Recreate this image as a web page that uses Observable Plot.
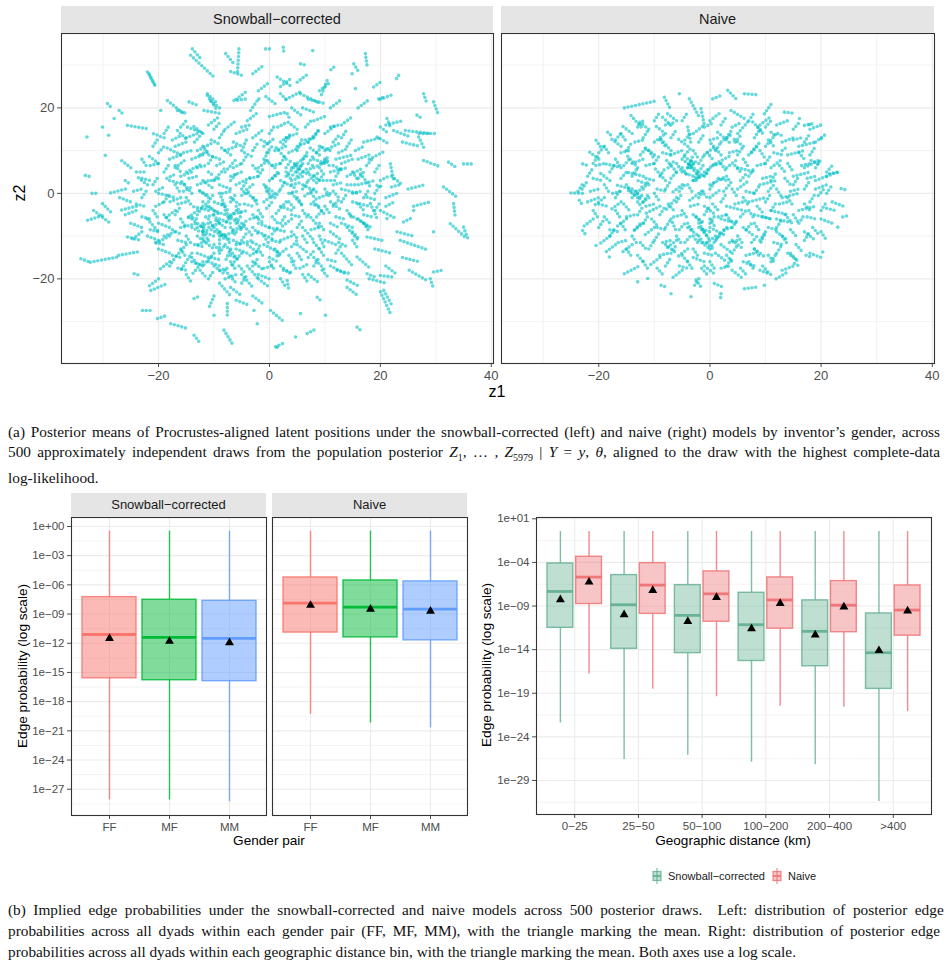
<!DOCTYPE html>
<html><head><meta charset="utf-8">
<script src="https://cdn.jsdelivr.net/npm/d3@7"></script>
<script src="https://cdn.jsdelivr.net/npm/@observablehq/plot@0.6"></script>
<style>
body{margin:0;background:#fff;}
#fig{position:relative;width:948px;height:975px;font-family:"Liberation Sans",Arial,sans-serif;overflow:hidden;}
.strip{position:absolute;background:#E5E5E5;color:#1A1A1A;text-align:center;}
.lbl{position:absolute;color:#000;white-space:nowrap;transform:translate(-50%,-50%);}
.cap{position:absolute;left:8px;width:960px;font-family:"Liberation Serif","Times New Roman",serif;font-size:15.3px;color:#111;}
.cap div{white-space:nowrap;}
.cap div span{display:inline-block;white-space:nowrap;}
.leg{position:absolute;top:868px;font-size:11px;color:#1A1A1A;display:flex;align-items:center;}
</style></head>
<body><div id="fig"></div>
<script>
// ---------------- DATA ----------------
// Latent-position streaks (z1 start, z2 start, z1 end, z2 end)
const snowballStreaks = [
// hub around (-9,-6)
[-12,-2,-9,-5],[-10,-8,-7,-11],[-6,-4,-8,-7],[-14,-6,-11,-9],[-9,0,-8,-3],[-5,-7,-3,-10],[-13,-10,-10,-13],[-8,-12,-6,-15],
[-11,-4,-14,-3],[-7,-1,-5,-3],[-16,-8,-13,-7],[-10,-14,-12,-17],[-4,-12,-2,-14],[-6,-9,-9,-10],[-12,-7,-12,-11],[-3,-5,-1,-7],
[-15,-12,-17,-15],[-8,-8,-10,-6],[-5,-14,-7,-17],[-2,-9,1,-11],[-11,-1,-13,1],[-9,-10,-9,-13],[-14,-14,-16,-18],[-7,-5,-4,-4],
[-13,-4,-15,-6],[-17,-4,-19,-6],[-18,-10,-21,-12],[-6,-12,-3,-11],[-10,-17,-8,-19],[-1,-12,2,-14],[-3,-16,-1,-18],[0,-8,3,-9],
[-12,-16,-14,-19],[-16,-1,-18,-2],[-4,0,-2,-2],[-9,-7,-11,-8],[-7,-13,-8,-16],[-11,-11,-13,-12],[-6,-6,-5,-9],[-8,-3,-10,-2],
[-10,-5,-9,-7],[-8,-4,-7,-6],[-11,-6,-10,-8],[-7,-8,-6,-10],[-9,-9,-8,-11],[-12,-9,-11,-11],[-6,-7,-5,-5],
// hub around (6,5)
[4,6,7,9],[6,2,9,0],[8,6,11,8],[2,3,5,1],[5,10,6,13],[9,3,12,3],[3,8,1,11],[7,12,9,15],[10,10,13,12],[4,0,6,-3],
[1,6,-1,8],[8,-2,10,-5],[11,5,14,6],[6,7,4,4],[2,12,4,14],[12,8,15,9],[9,9,7,11],[3,-2,1,-5],[7,-5,9,-8],[13,1,16,0],
[0,3,2,5],[5,15,3,17],[10,14,12,16],[14,4,17,6],[8,1,6,-1],[11,-2,13,-4],[1,0,-1,2],[6,-8,8,-11],[9,-10,10,-13],[4,-6,2,-8],
[7,3,9,5],[5,4,7,6],[3,4,5,7],[8,8,10,7],[5,5,6,7],[7,5,8,7],[4,3,6,4],[6,8,7,10],[8,3,9,4],[3,6,4,8],
// core fill
[-19,14,-18,16],[-15,13,-13,14],[-9,13,-8,15],[-6,14,-4,15],[0,14,1,16],[3,13,5,14],[8,13,9,15],[13,13,14,15],
[-21,11,-20,13],[-17,11,-15,12],[-12,11,-11,9],[-8,10,-6,11],[-3,10,-2,12],[1,10,3,11],[5,11,7,12],[9,11,11,10],[14,11,15,13],
[-23,8,-22,6],[-18,8,-16,9],[-14,8,-12,9],[-11,7,-10,9],[-5,7,-4,9],[-1,8,0,10],[2,7,3,9],[7,7,8,9],[10,8,11,6],[13,7,15,8],[16,8,18,9],
[-24,5,-22,5],[-19,5,-18,7],[-16,4,-14,5],[-11,5,-10,4],[-7,4,-5,5],[-2,4,-1,6],[3,5,4,3],[6,5,8,4],[9,6,10,4],[12,4,13,6],[15,5,16,3],[19,5,20,7],
[-26,3,-25,2],[-21,2,-20,4],[-17,2,-16,0],[-13,2,-11,3],[-9,2,-7,1],[-5,1,-4,3],[-1,2,0,0],[2,1,3,3],[6,1,7,3],[10,1,11,-1],[14,2,16,2],[19,0,20,2],
[-27,-1,-25,-2],[-23,-1,-22,1],[-19,-2,-18,0],[-15,-1,-14,-3],[-11,-2,-10,0],[-7,-2,-6,0],[-3,-1,-2,-3],[1,-1,2,1],[5,-1,6,-3],[9,-1,11,0],[13,-2,14,0],[17,-1,18,1],[21,-1,23,0],
[-26,-5,-24,-4],[-21,-4,-20,-6],[-17,-5,-16,-3],[-13,-5,-12,-3],[-10,-4,-8,-5],[-6,-3,-5,-5],[-2,-4,-1,-6],[2,-3,4,-4],[6,-4,7,-6],[10,-3,11,-5],[14,-4,15,-6],[19,-4,20,-2],
[-25,-7,-23,-8],[-20,-7,-18,-8],[-16,-6,-15,-8],[-13,-8,-11,-7],[-9,-6,-7,-7],[-5,-8,-4,-6],[-2,-7,0,-8],[2,-7,3,-5],[5,-8,6,-6],[9,-7,10,-9],[13,-7,15,-8],[17,-7,18,-9],
[-22,-10,-20,-11],[-19,-10,-17,-9],[-15,-10,-14,-12],[-12,-9,-10,-10],[-8,-10,-7,-12],[-5,-11,-4,-9],[-1,-10,0,-12],[2,-11,4,-10],[6,-10,7,-12],[10,-11,12,-12],[15,-11,16,-13],
[-20,-13,-18,-14],[-16,-13,-15,-15],[-13,-14,-11,-15],[-9,-14,-8,-12],[-6,-13,-4,-14],[-2,-13,-1,-15],[1,-13,2,-15],[5,-14,6,-16],[9,-13,10,-15],[12,-14,13,-12],
[-18,-17,-17,-15],[-14,-16,-12,-17],[-11,-16,-9,-17],[-7,-16,-6,-18],[-3,-17,-2,-15],[0,-16,1,-18],[4,-16,5,-18],[8,-17,9,-15],
[-15,-19,-14,-21],[-11,-20,-10,-18],[-8,-20,-6,-19],[-5,-21,-4,-19],[-2,-19,0,-20],[2,-20,3,-22],[6,-19,7,-21],
// core fill, second pass
[-16,15.5,-15,17],[-10,15,-9,16.5],[-5,15.5,-3.5,16],[1.5,15.5,3,16.5],[6.5,15.5,7.5,17],[11,15.5,12.5,16],
[-17.5,12.5,-16,13.5],[-13.5,12,-12.5,13.5],[-10.5,12.5,-9,11.5],[-6.5,12,-5,11],[-1.5,12.5,0,11.5],[2.5,11.5,3.5,13],[6.5,12.5,8,13],[11.5,12,12.5,13.5],
[-20,9.5,-19,11],[-15.5,9.5,-14,10],[-12.5,9,-11,10],[-4.5,9.5,-3,8.5],[-0.5,9.5,0.5,11],[3.5,9.5,5,10.5],[8.5,9.5,9.5,11],[12.5,9.5,14,10.5],[15.5,10,17,11],
[-21.5,6.5,-20,7],[-17,6.5,-16,5],[-13,6,-11.5,6.5],[-9.5,6.5,-8,7.5],[-6.5,6,-5,7],[-3,6.5,-2,5],[0.5,6.5,2,7],[4.5,7,5.5,5.5],[9.5,7,10.5,8.5],[11.5,6.5,13,5.5],[17.5,6.5,18.5,8],
[-23,3.5,-21.5,3],[-18.5,3.5,-17,4.5],[-14.5,3.5,-13,4],[-10.5,3,-9,3.5],[-7,3,-6,4.5],[-3.5,3.5,-2,4],[0.5,3.5,1.5,5],[4,2,5.5,2.5],[8.5,2.5,9.5,4],[11.5,2,13,2.5],[16,3.5,17,5],[20,3,21.5,4],
[-24.5,0.5,-23,1],[-20.5,0.5,-19,1.5],[-15.5,0.5,-14,1.5],[-12.5,0.5,-11,-0.5],[-8.5,0,-7,0.5],[-5,-0.5,-3.5,0.5],[-0.5,0.5,0.5,-1],[3.5,0,5,0.5],[7.5,0,8.5,-1.5],[11.5,0.5,12.5,-1],[15,0,16.5,0.5],[22,1.5,23.5,2],
[-24,-2.5,-22.5,-3],[-20.5,-3,-19,-2],[-16.5,-2.5,-15,-2],[-12,-3,-10.5,-3.5],[-8.5,-2.5,-7.5,-4],[-4.5,-2.5,-3,-3],[-0.5,-3.5,0.5,-2],[3.5,-2,4.5,-3.5],[7.5,-2.5,9,-3],[11.5,-3,12.5,-1.5],[16,-2.5,17,-4],[21,-3,22.5,-2],
[-23,-5.5,-21.5,-6],[-19,-5,-18,-6.5],[-14.5,-5.5,-13,-6],[-11.5,-5.5,-10,-5],[-7.5,-5.5,-6,-6.5],[-3.5,-6,-2,-5.5],[0.5,-5.5,1.5,-7],[4,-5,5.5,-5.5],[8.5,-5.5,9.5,-4],[12,-5.5,13.5,-6],[17,-5,18.5,-5.5],
[-21.5,-8.5,-20,-9],[-17.5,-8.5,-16,-9.5],[-14,-8,-12.5,-9],[-10.5,-8.5,-9,-9.5],[-6.5,-8.5,-5,-8],[-3,-8,-2,-9.5],[0.5,-9.5,1.5,-8],[4,-9,5,-10.5],[7.5,-8.5,9,-8],[11,-7,12.5,-8],[15,-9,16,-10.5],
[-20.5,-11.5,-19,-12],[-16.5,-11,-15,-11.5],[-13.5,-12,-12,-12.5],[-10,-12,-9,-13.5],[-6.5,-11,-5,-12],[-3,-11.5,-1.5,-12.5],[0.5,-11,2,-11.5],[4,-12.5,5,-11],[8,-11.5,9,-13],[12.5,-11.5,14,-12.5],
[-17.5,-14.5,-16,-15],[-14,-15,-13,-16.5],[-10.5,-15,-9,-15.5],[-7,-14.5,-5.5,-15.5],[-3.5,-14.5,-2,-13.5],[0,-15,1.5,-16],[3.5,-14.5,4.5,-16],[7,-15,8,-13.5],[10.5,-15.5,12,-16],
[-16.5,-17.5,-15,-18],[-12.5,-18,-11.5,-19.5],[-9,-18,-7.5,-17.5],[-5.5,-17,-4.5,-18.5],[-1,-17.5,0.5,-17],[2.5,-18,4,-18.5],[5.5,-17.5,7,-16.5],[9.5,-18,10.5,-19.5],
// between hubs / left side
[-15,5,-12,7],[-18,3,-15,2],[-20,0,-17,-1],[-22,2,-24,4],[-13,10,-10,12],[-8,5,-6,8],[-5,10,-4,13],[-10,3,-8,6],[-16,9,-19,11],
[-6,2,-3,4],[-2,6,0,8],[-3,13,-1,15],[-12,14,-14,16],[-8,15,-6,17],[-20,7,-22,9],[-24,-3,-27,-4],[-22,-6,-20,-9],[-26,1,-29,0],
[-19,13,-21,14],[-11,16,-9,18],[-4,17,-2,19],[-1,11,1,13],[-7,9,-9,11],[-25,6,-27,8],[-14,0,-16,3],[-3,2,-5,0],[-1,-2,1,0],
[-23,-9,-25,-11],[-18,-16,-20,-18],[-20,-20,-22,-22],[-12,3,-10,1],[-17,6,-15,8],[-9,8,-11,9],
// cluster near (-5,-20)
[-8,-18,-6,-21],[-5,-19,-3,-22],[-7,-22,-5,-24],[-4,-17,-2,-20],[-9,-21,-7,-24],[-6,-25,-4,-26],[-3,-24,-1,-26],[-10,-24,-11,-27],[-2,-20,0,-22],
// upper middle
[2,25,4,27],[3,22,6,24],[5,26,7,28],[7,22,10,21],[4,20,6,18],[1,21,-1,23],[9,24,11,26],[6,20,8,19],[0,18,3,19],[11,20,13,22],
[-2,24,0,26],[8,17,10,18],[-6,22,-4,24],[-9,20,-11,22],[-3,28,-1,30],
// right side
[15,-2,18,-3],[16,2,19,3],[18,8,21,10],[20,-4,23,-6],[14,-8,16,-11],[19,-13,22,-14],[17,12,20,13],[22,4,24,2],[25,1,28,2],
[23,-9,26,-10],[21,16,24,17],[13,16,15,18],[24,12,27,11],[26,-3,29,-2],[18,-20,21,-21],[13,-14,15,-17],[11,-17,14,-19],
[16,20,18,22],[20,22,22,23],[27,14,30,14],[24,-15,27,-16],[14,-22,16,-24],[8,-15,10,-18],[5,-12,7,-14],[2,-17,4,-19],
[7,-19,9,-21],[3,-13,1,-15],[11,-9,13,-11],[16,-6,18,-8],[21,-17,23,-19],
// outer streaks
[-13.9,33.8,-12.4,31.5],[-14.2,32.3,-10.0,27.2],[-7.9,32.7,-6.4,30.3],[-5.5,33.8,-5.8,27.6],[-7,28.5,-5,27.6],[-0.7,33.8,0.2,33.8],
[2.5,34.2,2.6,32.7],[7.8,33.4,8,33.6],[17.3,32.7,17.6,29.9],[15.2,30.3,16.1,28.4],[23.3,27.6,22.7,26.4],[-22.0,28.4,-20.5,24.9],
[-18.4,21.7,-15.4,18.6],[-29.2,21.0,-28.6,20.2],[-27.1,19.4,-26.2,18.3],[-28,17.5,-27.8,17.3],[-32.9,13.2,-32.6,13.3],[-25.6,15.9,-22.0,15.1],
[-30.1,15.5,-30,15.6],[-29.0,13.6,-28.7,13.3],[-29.6,8.9,-29,8.5],[-33.2,4.2,-32,3.8],[-32,0,-30.8,0],[-34,-15.3,-32.6,-16],
[-32.3,-16.1,-27.4,-14.9],[-27.2,-14.5,-23.8,-13.7],[-31.7,-4.0,-28.6,-7.1],[-32.8,-6.3,-29.9,-5.1],[-30.1,-2.4,-28.3,-4.8],
[-25.6,-10.2,-23.2,-11],[-24.4,-18.8,-23.2,-19.2],[-21.4,-22.7,-18.4,-21.1],[-22.9,-27.4,-21.1,-27.4],[-20.2,-29.3,-18.4,-28.5],
[-17.8,-30.5,-14.8,-31.6],[-13.6,-33.2,-12.4,-35.2],[-13.6,-24.6,-12.4,-23.9],[-10,-28.5,-9.9,-28.6],[-8.2,-32,-6.7,-35.2],
[-7.6,-25.8,-7.6,-28.9],[-2.8,-27.4,-2.7,-27.5],[-2.2,-30.5,-2.1,-30.6],[0.2,-27.4,2.3,-29.7],[1.4,-36,1.5,-36.1],[1.1,-35.9,2.9,-34.8],
[5.6,-28.1,5.5,-28.3],[4.7,-33.6,4.8,-33.7],[6.8,-32.8,8.6,-31.6],[15.8,-31.3,16.4,-32],[3.2,-20.4,3.5,-22.7],[8.6,-24.3,9.5,-25.4],
[10.1,-28.5,10.2,-28.6],[20,-23,21.8,-28.1],[20.6,-22.7,22.1,-26.2],[29,-20,29.6,-22.3],[29.6,-18.4,31.1,-18],[25.2,-18,28.4,-20.4],
[20,-19.2,22.4,-19.6],[17.6,-18.8,19.1,-19.6],[14,-20.3,16.4,-21.9],[12.2,-18,14.6,-18.8],[15.8,-14.9,18.2,-17.6],[14.6,-5.1,18.2,-7.9],
[17.6,-10.2,20.3,-11],[23.6,-11,28.7,-13.3],[35,-7.9,35.9,-11],[32.6,-7.1,35.6,-10.6],[29.6,-9,29.7,-9.1],[33.2,-2.4,33.5,-5.5],
[31.4,1.5,33.8,-0.9],[35,6.9,36.8,6.9],[32.3,7.3,33.5,6.2],[27.8,7.7,30.8,6.2],[26.6,18.3,27.5,17.5],[27.8,23.3,28.4,21],
[29.6,21.4,30.5,18.2],[26.9,13.2,27.8,10.8],[24.5,14.7,29,14],[22.4,14.7,25.4,13.2],[19.4,13.2,21.5,11.6],[21.2,17.5,21.8,15.5],
[20,15.5,21.2,14.3],[21.8,6.9,22.4,3],[16.4,4.6,18.2,1.5],[19.4,1.9,20.6,1.5],[17.6,-0.9,19.4,-1.6],[18.2,-2.4,19.4,-5.9],
[21.2,-5.9,21.3,-6],[25.4,-5.9,23.6,-7.1],[26,-4,26.1,-4.1],[18.8,24.9,20,26],[15.5,24.5,15.6,24.6],[14.9,28,15,28.1],
[19.7,22.1,20.6,22.5],[11.6,29.5,11,28.8],[10.4,26.4,9.2,22.5],[5.6,30.3,6.8,29.9],[1.4,27.2,4.1,24.9],[2,23.3,3.2,21.7],
[5.6,23.3,9.2,21],[3.2,18.6,3.8,17.1],[-3.4,19.4,-2.2,21.7],[-6.4,21.7,-4,22.1],[-1.9,22.1,-1.8,22.2],[-11.2,23.3,-9.4,21],
[-11.8,19.4,-8.5,18.6],[-11.2,22.9,-9.4,19.4],[-16.6,19.4,-14.8,18.6],[-14.5,21.4,-13,20.6],[-19.6,19.4,-19.5,19.5],
[-14.8,15.5,-11.8,14],[-16.6,14.7,-14.8,12.4],[-21.7,28,-20.5,24.9]
];
const naiveStreaks = [
// interior
[-5,8,-2,5],[-3,3,0,5],[-6,5,-8,8],[-1,9,1,11],[-4,11,-6,13],[0,2,3,4],[-8,3,-10,6],[-2,0,-4,-2],[1,7,4,9],[-7,10,-9,13],
[2,12,4,14],[-10,9,-12,11],[-3,14,-1,16],[5,6,8,5],[-12,4,-15,5],[-14,1,-17,2],[-11,-1,-13,-3],[-16,-2,-18,-4],[-13,6,-15,9],
[-18,3,-20,5],[-9,-3,-12,-5],[-6,-1,-8,-4],[-15,-6,-17,-8],[-19,-1,-21,-3],[-10,-8,-12,-10],[-7,-6,-6,-9],[-3,-5,-1,-7],
[0,-8,3,-10],[-2,-11,0,-13],[2,-6,5,-7],[4,-11,6,-13],[-4,-13,-6,-15],[1,-14,3,-16],[-1,-17,1,-19],[6,-8,8,-10],[3,-3,6,-4],
[7,-2,10,-1],[9,2,12,3],[11,-4,14,-5],[8,-13,10,-15],[12,-9,14,-11],[13,-1,16,0],[15,4,18,5],[11,6,13,8],[7,9,9,12],
[10,11,12,14],[14,9,17,10],[16,-4,19,-3],[17,-9,19,-11],[14,-14,16,-16],[19,1,21,2],[20,-6,22,-7],[17,6,20,8],[19,12,21,14],
[5,14,7,17],[9,16,11,18],[0,17,2,19],[-6,17,-8,19],[-11,15,-13,17],[-16,11,-18,13],[-20,8,-22,10],[-21,-6,-23,-8],
[-18,-10,-20,-12],[-14,-12,-16,-14],[-9,-15,-11,-17],[-5,-18,-7,-20],[4,-18,6,-20],[9,-18,11,-19],[13,-18,15,-17],
[18,-14,20,-15],[22,-2,24,-3],[21,4,23,5],[18,15,20,16],[-2,-20,-3,-22],[-8,-12,-6,-14],[5,1,7,3],[-4,-8,-2,-10],
[-12,-7,-14,-9],[-1,-3,1,-5],[3,-8,1,-11],[-5,2,-7,0],[-2,4,-4,7],[2,9,0,12],[6,11,4,13],[-8,14,-10,16],[12,-6,15,-7],
[10,-9,9,-12],[-16,6,-19,7],[-23,2,-24,0],[-17,-12,-19,-14],[16,11,19,12],[20,-9,21,-11],[-6,-11,-8,-13],[0,-1,2,1],
[3,6,5,8],[-10,12,-8,14],[-14,14,-16,16],[8,-5,11,-6],[6,-16,8,-17],[-3,-15,-1,-16],
[-4,6,-3,9],[-1,5,1,7],[-2,-8,0,-9],[1,-10,-1,-12],[-13,-1,-15,1],[-11,2,-13,3],[-3,7,-5,9],[2,-12,4,-14],
// core fill
[-10,17,-9,19],[-5,17,-4,19],[2,16,3,18],[7,17,8,19],[12,16,14,17],
[-16,14,-15,12],[-12,13,-11,15],[-7,13,-6,15],[-2,12,-1,14],[3,13,4,15],[8,13,9,15],[13,12,15,13],[17,12,18,14],
[-19,11,-18,9],[-15,10,-14,12],[-11,10,-10,8],[-7,9,-5,10],[-3,10,-2,8],[1,10,2,12],[5,9,6,11],[9,10,10,8],[13,10,14,11],[18,9,19,11],
[-21,7,-20,9],[-17,8,-16,6],[-14,7,-12,8],[-10,7,-9,9],[-6,7,-5,5],[-2,7,-1,9],[2,7,3,5],[6,8,7,6],[10,7,11,9],[14,7,15,5],[19,6,20,8],
[-22,4,-21,6],[-18,5,-17,7],[-14,4,-13,6],[-9,4,-8,6],[-5,5,-3,4],[-1,4,0,6],[3,4,4,2],[7,4,8,6],[11,3,12,5],[15,2,16,4],[19,3,21,4],
[-23,1,-22,3],[-19,2,-18,0],[-15,2,-14,0],[-12,1,-11,3],[-8,1,-7,3],[-4,2,-3,0],[0,1,1,3],[4,1,5,-1],[8,0,9,2],[12,1,13,-1],[17,1,18,3],[21,0,22,2],
[-22,-2,-20,-1],[-17,-1,-16,1],[-13,-2,-12,0],[-10,0,-9,-2],[-6,-2,-5,0],[-2,-1,-1,1],[2,-2,3,0],[6,-1,7,-3],[10,-2,11,0],[14,-1,15,-3],[18,-2,19,0],
[-21,-4,-20,-6],[-17,-4,-16,-6],[-13,-5,-12,-3],[-9,-5,-8,-3],[-5,-4,-4,-6],[-1,-5,0,-3],[3,-5,4,-7],[7,-4,8,-6],[11,-4,12,-2],[15,-5,16,-7],[20,-4,21,-2],
[-20,-8,-19,-6],[-16,-7,-15,-9],[-12,-7,-11,-5],[-8,-8,-7,-6],[-4,-7,-3,-9],[0,-7,1,-5],[4,-8,5,-6],[8,-7,9,-9],[12,-8,13,-6],[16,-7,17,-5],
[-18,-10,-17,-8],[-14,-10,-13,-12],[-10,-11,-9,-9],[-6,-10,-5,-12],[-2,-10,-1,-12],[1,-11,2,-9],[5,-10,6,-12],[9,-11,10,-9],[13,-10,14,-12],[17,-11,18,-9],
[-15,-13,-14,-15],[-11,-13,-10,-11],[-7,-14,-6,-12],[-3,-13,-2,-15],[0,-13,1,-11],[4,-14,5,-12],[8,-13,9,-15],[12,-14,13,-12],
[-12,-16,-11,-18],[-8,-17,-7,-15],[-4,-16,-3,-18],[0,-16,1,-18],[3,-17,4,-15],[7,-16,8,-18],[11,-16,12,-14],
[-4,6,-3,8],[-2,5,-1,7],[-3,3,-2,5],[-5,6,-4,4],[-1,-9,0,-11],[-2,-7,-1,-9],[0,-6,1,-8],[-3,-10,-2,-12],[-13,0,-12,2],[-14,-1,-13,1],[-12,-2,-11,0],
// core fill, second pass
[-13,15.5,-12,17],[-8,16,-6.5,16.5],[-1,15.5,0.5,16.5],[4,15.5,5.5,16.5],[10,15.5,11,17],[15,15,16,16.5],
[-17,12.5,-16,14],[-13.5,12,-12,12.5],[-9,12.5,-8,11],[-4.5,12.5,-3.5,14],[0,12.5,1.5,13],[4.5,12,5.5,13.5],[10.5,12.5,11.5,11],[15,12.5,16.5,13],
[-20,9.5,-19,11],[-16,9.5,-14.5,10],[-12.5,9,-11.5,10.5],[-8.5,9.5,-7,9],[-4.5,9,-3.5,10.5],[-0.5,9.5,0.5,8],[3.5,9.5,5,10],[7.5,9.5,8.5,11],[11.5,9.5,13,9],[16,9.5,17,8],
[-20.5,6.5,-19,7],[-15.5,6.5,-14.5,8],[-11.5,6.5,-10,7],[-7.5,6,-6.5,7.5],[-3.5,6,-2.5,7.5],[0.5,6.5,2,7],[4.5,6.5,5.5,5],[8.5,6.5,10,7],[12.5,6.5,13.5,5],[16.5,6.5,18,7],[21,5,22,6.5],
[-21,3.5,-19.5,3],[-16,3.5,-15,5],[-11.5,3.5,-10,3],[-7,3.5,-6,5],[-2.5,3,-1.5,4.5],[1.5,3.5,3,3],[5.5,3,6.5,4.5],[9.5,3.5,11,4],[13.5,3.5,14.5,2],[17.5,3.5,19,4],
[-21.5,0.5,-20,1],[-17.5,0,-16,0.5],[-13.5,0.5,-12.5,-1],[-9.5,1,-8,0.5],[-5.5,0.5,-4.5,2],[-1.5,0.5,-0.5,-1],[2.5,0.5,3.5,2],[6.5,0.5,8,0],[10.5,0.5,11.5,2],[14.5,0.5,16,1],[19.5,-0.5,20.5,1],
[-20,-2.5,-18.5,-3],[-15.5,-2.5,-14.5,-4],[-11.5,-3,-10,-2.5],[-7.5,-2.5,-6.5,-4],[-3.5,-3,-2,-2.5],[0.5,-2.5,1.5,-4],[4.5,-2.5,6,-2],[8.5,-3,9.5,-4.5],[12.5,-2.5,14,-2],[17,-2.5,18,-4],[21,-3.5,22.5,-4],
[-19,-5.5,-18,-7],[-15,-5.5,-13.5,-5],[-10.5,-6,-9.5,-7.5],[-6.5,-5.5,-5,-5],[-2.5,-5.5,-1.5,-7],[1.5,-5.5,3,-5],[5.5,-5.5,6.5,-4],[9.5,-5.5,11,-6],[13.5,-5,14.5,-6.5],[17.5,-5.5,19,-6],
[-18,-8.5,-16.5,-9],[-13.5,-8.5,-12.5,-7],[-9.5,-8,-8,-8.5],[-5.5,-8.5,-4.5,-7],[-1.5,-8.5,-0.5,-10],[2.5,-8.5,4,-8],[6.5,-8.5,7.5,-7],[10.5,-8,12,-8.5],[14.5,-8.5,15.5,-10],[18.5,-8,19.5,-9.5],
[-16.5,-11.5,-15,-11],[-12.5,-11.5,-11.5,-13],[-8.5,-11.5,-7,-11],[-4.5,-11.5,-3.5,-10],[-0.5,-11.5,0.5,-13],[3.5,-11.5,5,-11],[7.5,-11.5,8.5,-10],[11.5,-11.5,13,-12],[15.5,-12,16.5,-13.5],
[-13,-14.5,-12,-16],[-9,-14.5,-7.5,-14],[-5,-14.5,-4,-16],[-1,-14,0.5,-14.5],[3,-14.5,4,-16],[6.5,-14.5,8,-14],[10.5,-14.5,11.5,-16],[14.5,-14,15.5,-15.5],
[-9.5,-17.5,-8.5,-19],[-5.5,-17,-4,-17.5],[-1.5,-17.5,-0.5,-19],[2,-17.5,3.5,-17],[5.5,-17.5,6.5,-19],[9.5,-17,10.5,-18.5],
// perimeter
[-15.4,20,-9.4,21.7],[-8.2,22.5,-7,19.4],[-5.5,23.3,-5.2,23.1],[-3.7,22.1,-1.9,17.8],[0.5,22.1,2,22.9],[3.2,24.1,5,21.7],
[6.2,23.3,8.3,23.1],[9.8,18.6,11.3,21.4],[13.4,19,14.9,18.8],[16.1,17.5,16.7,17.2],[17.9,16.1,18.5,15.7],[-14.2,18.2,-12.1,15.1],
[-18.4,14.3,-17.5,13.2],[-20.5,12.4,-19.6,10.8],[-22.9,6.9,-22,6.5],[-25,0.1,-22.9,0],[-23.5,-1.6,-22.9,-2.8],[-22.9,-8.7,-22.3,-9.8],
[-20.5,-12.2,-20.2,-12.4],[-18.1,-14.9,-17.5,-15.3],[-15.4,-18.8,-12.4,-16.8],[-13,-20.7,-12.7,-20.6],[-11.2,-19.9,-10.9,-19.8],
[-8.8,-21.5,-7.9,-21.9],[-7,-23.5,-6.8,-23.9],[-3.4,-24.2,-3.3,-24.3],[-2.5,-20.3,-1.6,-21.9],[0.8,-21.1,2.3,-21.9],
[2,-23.5,1.9,-24.6],[6.2,-22.3,8.6,-21.9],[9.8,-21.5,10.4,-21.1],[11.9,-20,14,-18.4],[15.2,-16.4,16.4,-17.2],[17.3,-14.5,18.2,-14.9],
[20.3,-13.7,20.9,-13.3],[23,-7.9,23.3,-8.1],[23.9,-5.5,25.1,-5.1],[23.6,1.1,24.8,0.7],[21.5,4.6,23.3,5],[18.2,7.7,19.7,6.9],
[20,12.8,20.6,13.2],[17,15.9,18.5,16.3],[12.2,14,13.4,13.2],[8.6,15.5,9.5,14],[3.8,19.4,6.2,17.5],[-1.6,19.8,-1,15.9],
[-8.5,17.8,-6.7,15.5],[-4,15.5,-3.4,11.6],[1.4,14.3,3.8,11.6],[7.7,16.7,9.2,14.7],[11,14.3,11.9,13.2]
];

// Edge probabilities by gender pair: log10 of whisker ends, quartiles, median, mean
const genderPairs = ["FF", "MF", "MM"];
const models = ["Snowball\u2212corrected", "Naive"];
const gpModel  = ["Snowball\u2212corrected","Snowball\u2212corrected","Snowball\u2212corrected","Naive","Naive","Naive"];
const gpPair   = ["FF","MF","MM","FF","MF","MM"];
const gpLow    = [-28.1, -28.1, -28.3, -19.3, -20.2, -20.7];
const gpQ1     = [-15.6, -15.8, -15.9, -10.9, -11.4, -11.7];
const gpMedian = [-11.1, -11.4, -11.5, -7.88, -8.29, -8.5];
const gpQ3     = [-7.26, -7.53, -7.64, -5.24, -5.55, -5.65];
const gpHigh   = [-0.48, -0.48, -0.48, -0.48, -0.48, -0.48];
const gpMean   = [-11.5, -11.8, -11.95, -8.1, -8.5, -8.7];

// Edge probabilities by geographic distance bin (Snowball, Naive per bin), log10
const distBins = ["0\u221225", "25\u221250", "50\u2212100", "100\u2212200", "200\u2212400", ">400"];
const gdLowS    = [-22.4, -26.6, -26.1, -26.9, -27.2, -31.4];
const gdQ1S     = [-11.5, -13.9, -14.4, -15.3, -15.9, -18.5];
const gdMedianS = [-7.33, -8.85, -10.07, -11.14, -11.9, -14.35];
const gdQ3S     = [-4.12, -5.45, -6.6, -7.48, -8.35, -9.85];
const gdHighS   = [-0.45, -0.45, -0.45, -0.45, -0.45, -0.45];
const gdMeanS   = [-8.28, -10.0, -10.76, -11.6, -12.3, -14.1];
const gdLowN    = [-16.8, -18.55, -19.4, -20.5, -20.6, -21.1];
const gdQ1N     = [-8.77, -9.9, -10.8, -11.6, -12.0, -12.4];
const gdMedianN = [-5.68, -6.6, -7.6, -8.3, -8.9, -9.46];
const gdQ3N     = [-3.35, -4.08, -5.03, -5.72, -6.14, -6.64];
const gdHighN   = [-0.45, -0.45, -0.45, -0.45, -0.45, -0.45];
const gdMeanN   = [-6.25, -7.2, -8.0, -8.7, -9.1, -9.57];

// ---------------- HELPERS ----------------
const fig = document.getElementById("fig");
const minus = s => String(s).replace("-", "\u2212");
const fmtNum = d => minus(d);
const fmtE = d => { const e = Math.round(Math.log10(d)); return "1e" + (e < 0 ? "\u2212" : "+") + String(Math.abs(e)).padStart(2, "0"); };
function place(el, left, top) { el.style.position = "absolute"; el.style.left = left + "px"; el.style.top = top + "px"; fig.appendChild(el); return el; }
function strip(text, left, top, w, h, fs) {
  const d = document.createElement("div"); d.className = "strip"; d.textContent = text;
  Object.assign(d.style, {left: left + "px", top: top + "px", width: w + "px", height: h + "px", lineHeight: h + "px", fontSize: fs + "px"});
  fig.appendChild(d);
}
function label(text, cx, cy, fs, rot) {
  const d = document.createElement("div"); d.className = "lbl"; d.textContent = text;
  Object.assign(d.style, {left: cx + "px", top: cy + "px", fontSize: fs + "px"});
  if (rot) d.style.transform = "translate(-50%,-50%) rotate(-90deg)";
  fig.appendChild(d);
}
const gridCol = "#EBEBEB";
const baseStyle = {fontFamily: "'Liberation Sans', Arial, sans-serif", color: "#4D4D4D", background: "transparent", overflow: "visible"};

// ---------------- TOP: latent positions ----------------
function scatterPanel(streaks, showY) {
  return Plot.plot({
    width: showY ? 494 : 435, height: 361,
    marginLeft: showY ? 61 : 1, marginRight: 1, marginTop: 1, marginBottom: 30,
    style: {...baseStyle, fontSize: "13px"},
    x: {domain: [-37.5, 40.4], ticks: [-20, 0, 20, 40], tickFormat: fmtNum, tickSize: 4, tickPadding: 3, label: null},
    y: {domain: [-39.8, 37.4], ticks: [-20, 0, 20], tickFormat: fmtNum, tickSize: 4, tickPadding: 3, label: null, axis: showY ? "left" : null},
    marks: [
      Plot.gridX([-30, -10, 10, 30], {stroke: gridCol, strokeOpacity: 1, strokeWidth: 0.6}),
      Plot.gridY([-30, -10, 10, 30], {stroke: gridCol, strokeOpacity: 1, strokeWidth: 0.6}),
      Plot.gridX([-20, 0, 20, 40], {stroke: gridCol, strokeOpacity: 1, strokeWidth: 1.1}),
      Plot.gridY([-20, 0, 20], {stroke: gridCol, strokeOpacity: 1, strokeWidth: 1.1}),
      Plot.link(streaks, {x1: d => d[0], y1: d => d[1], x2: d => d[2], y2: d => d[3],
        stroke: "#00BFC4", strokeOpacity: 0.6, strokeWidth: 3.6, strokeLinecap: "round", strokeDasharray: "0 3.8"}),
      Plot.frame({stroke: "#333333", strokeWidth: 1.1})
    ]
  });
}
place(scatterPanel(snowballStreaks, true), 0, 32);
place(scatterPanel(naiveStreaks, false), 500, 32);
strip("Snowball\u2212corrected", 61, 6, 432, 27, 14.5);
strip("Naive", 501, 6, 433, 27, 14.5);
label("z2", 20, 193, 16, true);
label("z1", 497, 392, 16, false);

// ---------------- BOTTOM LEFT: gender pairs ----------------
const gpRows = gpPair.map((p, i) => ({model: gpModel[i], pair: p,
  lo: 10 ** gpLow[i], q1: 10 ** gpQ1[i], med: 10 ** gpMedian[i], q3: 10 ** gpQ3[i], hi: 10 ** gpHigh[i], mean: 10 ** gpMean[i]}));
const gMajor = d3.range(0, -28, -3).map(e => 10 ** e);
const gMinor = d3.range(-1.5, -29, -3).map(e => 10 ** e);
function genderPanel(model, showY) {
  const rows = gpRows.filter(d => d.model === model);
  return Plot.plot({
    width: showY ? 267 : 197, height: 327,
    marginLeft: showY ? 71 : 1, marginRight: 1, marginTop: 1, marginBottom: 28,
    style: {...baseStyle, fontSize: "11.5px"},
    x: {domain: genderPairs, paddingInner: 0.1, paddingOuter: 0.15, tickSize: 4, tickPadding: 3, label: null},
    y: {type: "log", domain: [10 ** -29.7, 10 ** 0.92], ticks: gMajor, tickFormat: fmtE, tickSize: 4, tickPadding: 3, label: null, axis: showY ? "left" : null},
    color: {domain: genderPairs, range: ["#F8766D", "#00BA38", "#619CFF"]},
    marks: [
      Plot.gridY(gMinor, {stroke: gridCol, strokeOpacity: 1, strokeWidth: 0.6}),
      Plot.gridY(gMajor, {stroke: gridCol, strokeOpacity: 1, strokeWidth: 1.1}),
      Plot.gridX(genderPairs, {stroke: gridCol, strokeOpacity: 1, strokeWidth: 1.1}),
      Plot.ruleX(rows, {x: "pair", y1: "lo", y2: "q1", stroke: "pair", strokeWidth: 1.4, strokeOpacity: 0.85}),
      Plot.ruleX(rows, {x: "pair", y1: "q3", y2: "hi", stroke: "pair", strokeWidth: 1.4, strokeOpacity: 0.85}),
      Plot.barY(rows, {x: "pair", y1: "q1", y2: "q3", fill: "pair", fillOpacity: 0.5, stroke: "pair", strokeOpacity: 0.85, strokeWidth: 1.4}),
      Plot.tickY(rows, {x: "pair", y: "med", stroke: "pair", strokeWidth: 2.8}),
      Plot.dot(rows, {x: "pair", y: "mean", symbol: "triangle", r: 3.3, fill: "black", stroke: "none"}),
      Plot.frame({stroke: "#333333", strokeWidth: 1.1})
    ]
  });
}
place(genderPanel(models[0], true), 0, 516);
place(genderPanel(models[1], false), 271, 516);
strip("Snowball\u2212corrected", 71, 493, 195, 24, 13);
strip("Naive", 272, 493, 195, 24, 13);
label("Edge probability (log scale)", 22, 666, 13.6, true);
label("Gender pair", 269, 840, 13.6, false);

// ---------------- BOTTOM RIGHT: distance bins ----------------
const gdRows = [];
distBins.forEach((b, i) => {
  gdRows.push({bin: b, idx: i + 1, model: models[0], off: -0.225, lo: 10 ** gdLowS[i], q1: 10 ** gdQ1S[i], med: 10 ** gdMedianS[i], q3: 10 ** gdQ3S[i], hi: 10 ** gdHighS[i], mean: 10 ** gdMeanS[i]});
  gdRows.push({bin: b, idx: i + 1, model: models[1], off: 0.225, lo: 10 ** gdLowN[i], q1: 10 ** gdQ1N[i], med: 10 ** gdMedianN[i], q3: 10 ** gdQ3N[i], hi: 10 ** gdHighN[i], mean: 10 ** gdMeanN[i]});
});
const halfBox = 0.2025;
const dMajor = d3.range(1, -30, -5).map(e => 10 ** e);
const dMinor = d3.range(-1.5, -33, -5).map(e => 10 ** e);
const distPlot = Plot.plot({
  width: 462, height: 326, marginLeft: 66, marginRight: 1, marginTop: 1, marginBottom: 28,
  style: {...baseStyle, fontSize: "11.5px"},
  x: {domain: [0.4, 6.6], ticks: [1, 2, 3, 4, 5, 6], tickFormat: i => distBins[i - 1], tickSize: 4, tickPadding: 3, label: null},
  y: {type: "log", domain: [10 ** -32.9, 10 ** 1.15], ticks: dMajor, tickFormat: fmtE, tickSize: 4, tickPadding: 3, label: null},
  color: {domain: models, range: ["#5fae8f", "#ee6e70"]},
  marks: [
    Plot.gridY(dMinor, {stroke: gridCol, strokeOpacity: 1, strokeWidth: 0.6}),
    Plot.gridY(dMajor, {stroke: gridCol, strokeOpacity: 1, strokeWidth: 1.1}),
    Plot.gridX([1, 2, 3, 4, 5, 6], {stroke: gridCol, strokeOpacity: 1, strokeWidth: 1.1}),
    Plot.ruleX(gdRows, {x: d => d.idx + d.off, y1: "lo", y2: "q1", stroke: "model", strokeOpacity: 0.8, strokeWidth: 1.4}),
    Plot.ruleX(gdRows, {x: d => d.idx + d.off, y1: "q3", y2: "hi", stroke: "model", strokeOpacity: 0.8, strokeWidth: 1.4}),
    Plot.rect(gdRows, {x1: d => d.idx + d.off - halfBox, x2: d => d.idx + d.off + halfBox, y1: "q1", y2: "q3",
      fill: "model", fillOpacity: 0.4, stroke: "model", strokeOpacity: 0.8, strokeWidth: 1.4}),
    Plot.ruleY(gdRows, {y: "med", x1: d => d.idx + d.off - halfBox, x2: d => d.idx + d.off + halfBox, stroke: "model", strokeOpacity: 0.9, strokeWidth: 2.8}),
    Plot.dot(gdRows, {x: d => d.idx + d.off, y: "mean", symbol: "triangle", r: 3.3, fill: "black", stroke: "none"}),
    Plot.frame({stroke: "#333333", strokeWidth: 1.1})
  ]
});
place(distPlot, 470, 516);
label("Edge probability (log scale)", 486, 665, 13.6, true);
label("Geographic distance (km)", 733, 840, 13.6, false);

// legend
function legendItem(text, col, left) {
  const d = document.createElement("div"); d.className = "leg"; d.style.left = left + "px";
  d.innerHTML = `<svg width="12" height="16" style="margin-right:5px"><line x1="6" x2="6" y1="0" y2="16" stroke="${col}" stroke-opacity="0.8" stroke-width="1.2"/><rect x="2" y="3.5" width="8" height="9" fill="${col}" fill-opacity="0.4" stroke="${col}" stroke-opacity="0.8" stroke-width="1.2"/><line x1="2" x2="10" y1="8" y2="8" stroke="${col}" stroke-width="1.6"/></svg><span>${text}</span>`;
  fig.appendChild(d);
}
legendItem(models[0], "#5fae8f", 651);
legendItem(models[1], "#ee6e70", 771);

// captions: each full line is justified to 932px by adjusting word spacing
function caption(top, lines, lh) {
  const c = document.createElement("div"); c.className = "cap"; c.style.top = top + "px"; c.style.lineHeight = lh + "px";
  c.innerHTML = lines.map(l => `<div><span>${l}</span></div>`).join("");
  fig.appendChild(c);
  const spans = c.querySelectorAll("span");
  spans.forEach((s, i) => {
    if (i === spans.length - 1) return;
    const w = s.getBoundingClientRect().width;
    const gaps = (s.textContent.match(/ /g) || []).length;
    if (gaps > 0) s.style.wordSpacing = ((932 - w) / gaps) + "px";
  });
}
caption(422, [
  "(a) Posterior means of Procrustes-aligned latent positions under the snowball-corrected (left) and naive (right) models by inventor\u2019s gender, across",
  "500 approximately independent draws from the population posterior <i>Z</i><sub style='font-size:10px'>1</sub><i>,</i> \u2026 <i>, Z</i><sub style='font-size:10px'>5979</sub> | <i>Y</i> = <i>y</i>, <i>\u03b8</i>, aligned to the draw with the highest complete-data",
  "log-likelihood."
], 20);
caption(899, [
  "(b) Implied edge probabilities under the snowball-corrected and naive models across 500 posterior draws.&nbsp; Left: distribution of posterior edge",
  "probabilities across all dyads within each gender pair (FF, MF, MM), with the triangle marking the mean. Right: distribution of posterior edge",
  "probabilities across all dyads within each geographic distance bin, with the triangle marking the mean. Both axes use a log scale."
], 21);
</script></body></html>
